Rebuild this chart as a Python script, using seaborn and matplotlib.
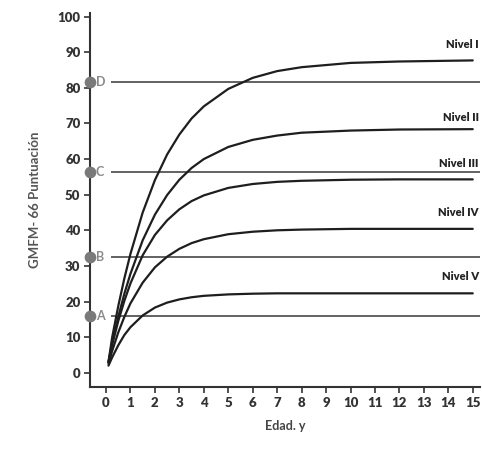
import pandas as pd
import matplotlib
matplotlib.use("Agg")
import matplotlib.pyplot as plt
import seaborn as sns

# Edad (años) y puntuación GMFM-66
edad = [0.1, 0.25, 0.5, 0.75, 1, 1.5, 2, 2.5, 3, 3.5, 4, 5, 6, 7, 8, 10, 12, 15]
nivel_1 = [3, 9.9, 18.7, 26.5, 33.4, 45.0, 54.1, 61.3, 66.9, 71.4, 74.8, 79.7, 82.8, 84.7, 85.8, 87.0, 87.4, 87.7]
nivel_2 = [3, 8.4, 15.7, 22.2, 27.8, 37.2, 44.4, 49.9, 54.2, 57.5, 60.0, 63.4, 65.4, 66.6, 67.4, 68.0, 68.3, 68.4]
nivel_3 = [3, 7.8, 14.5, 20.2, 25.1, 33.0, 38.7, 42.8, 45.9, 48.2, 49.8, 51.9, 53.0, 53.6, 53.9, 54.2, 54.3, 54.3]
nivel_4 = [2.5, 6.1, 11.3, 15.7, 19.5, 25.3, 29.6, 32.6, 34.8, 36.4, 37.5, 38.9, 39.6, 40.0, 40.2, 40.4, 40.4, 40.4]
nivel_5 = [2, 4.3, 7.7, 10.6, 12.8, 16.1, 18.3, 19.7, 20.6, 21.2, 21.6, 22.0, 22.2, 22.3, 22.3, 22.3, 22.3, 22.3]
niveles = ["Nivel I", "Nivel II", "Nivel III", "Nivel IV", "Nivel V"]
label_y = [92.1, 71.6, 58.7, 44.9, 27.0]

# Hitos motores (líneas horizontales)
hito_letras = ["A", "B", "C", "D"]
hito_valores = [16, 32.5, 56.5, 81.5]

x_ticks = list(range(0, 16))
y_ticks = list(range(0, 101, 10))

rows = []
for name, vals in zip(niveles, [nivel_1, nivel_2, nivel_3, nivel_4, nivel_5]):
    for e, v in zip(edad, vals):
        rows.append({"edad": e, "gmfm": v, "nivel": name})
df = pd.DataFrame(rows)

sns.set_style("ticks")
plt.rcParams['font.family'] = ['Lato', 'DejaVu Sans']

fig = plt.figure(figsize=(4.82, 4.5), dpi=100)
ax = fig.add_axes([0.187, 0.14, 0.809, 0.831])

# horizontal milestone lines
for letra, val in zip(hito_letras, hito_valores):
    ax.hlines(val, 0.2, 15.3, color="#555555", lw=1.3, zorder=1)
    ax.text(-0.42, val, letra, color="#8a8a8a", fontsize=9, fontweight="bold",
            va="center", ha="left")
    ax.scatter([-0.65], [val], s=55, color="#7a7a7a", clip_on=False, zorder=5)

sns.lineplot(data=df, x="edad", y="gmfm", hue="nivel", palette=["#1e1e1e"] * 5,
             legend=False, lw=1.6, ax=ax, zorder=3)

for name, ly in zip(niveles, label_y):
    ax.text(15.25, ly, name, ha="right", va="center", fontsize=8,
            fontweight="heavy", color="#222222")

ax.set_xlim(-0.65, 15.3)
ax.set_ylim(-4, 101)
ax.set_xticks(x_ticks)
ax.set_yticks(y_ticks)
ax.tick_params(axis="both", labelsize=9.5, length=4, width=1.2, colors="#333333", pad=3)
for lab in ax.get_xticklabels() + ax.get_yticklabels():
    lab.set_fontweight("heavy")
ax.set_xlabel("Edad. y", fontsize=9, fontweight="bold", color="#444444", labelpad=8)
ax.set_ylabel("GMFM- 66 Puntuación", fontsize=9.5, fontweight="bold", color="#555555", labelpad=12)

sns.despine(ax=ax)
for s in ["left", "bottom"]:
    ax.spines[s].set_color("#333333")
    ax.spines[s].set_linewidth(1.5)

fig.savefig("out.png", dpi=100)
